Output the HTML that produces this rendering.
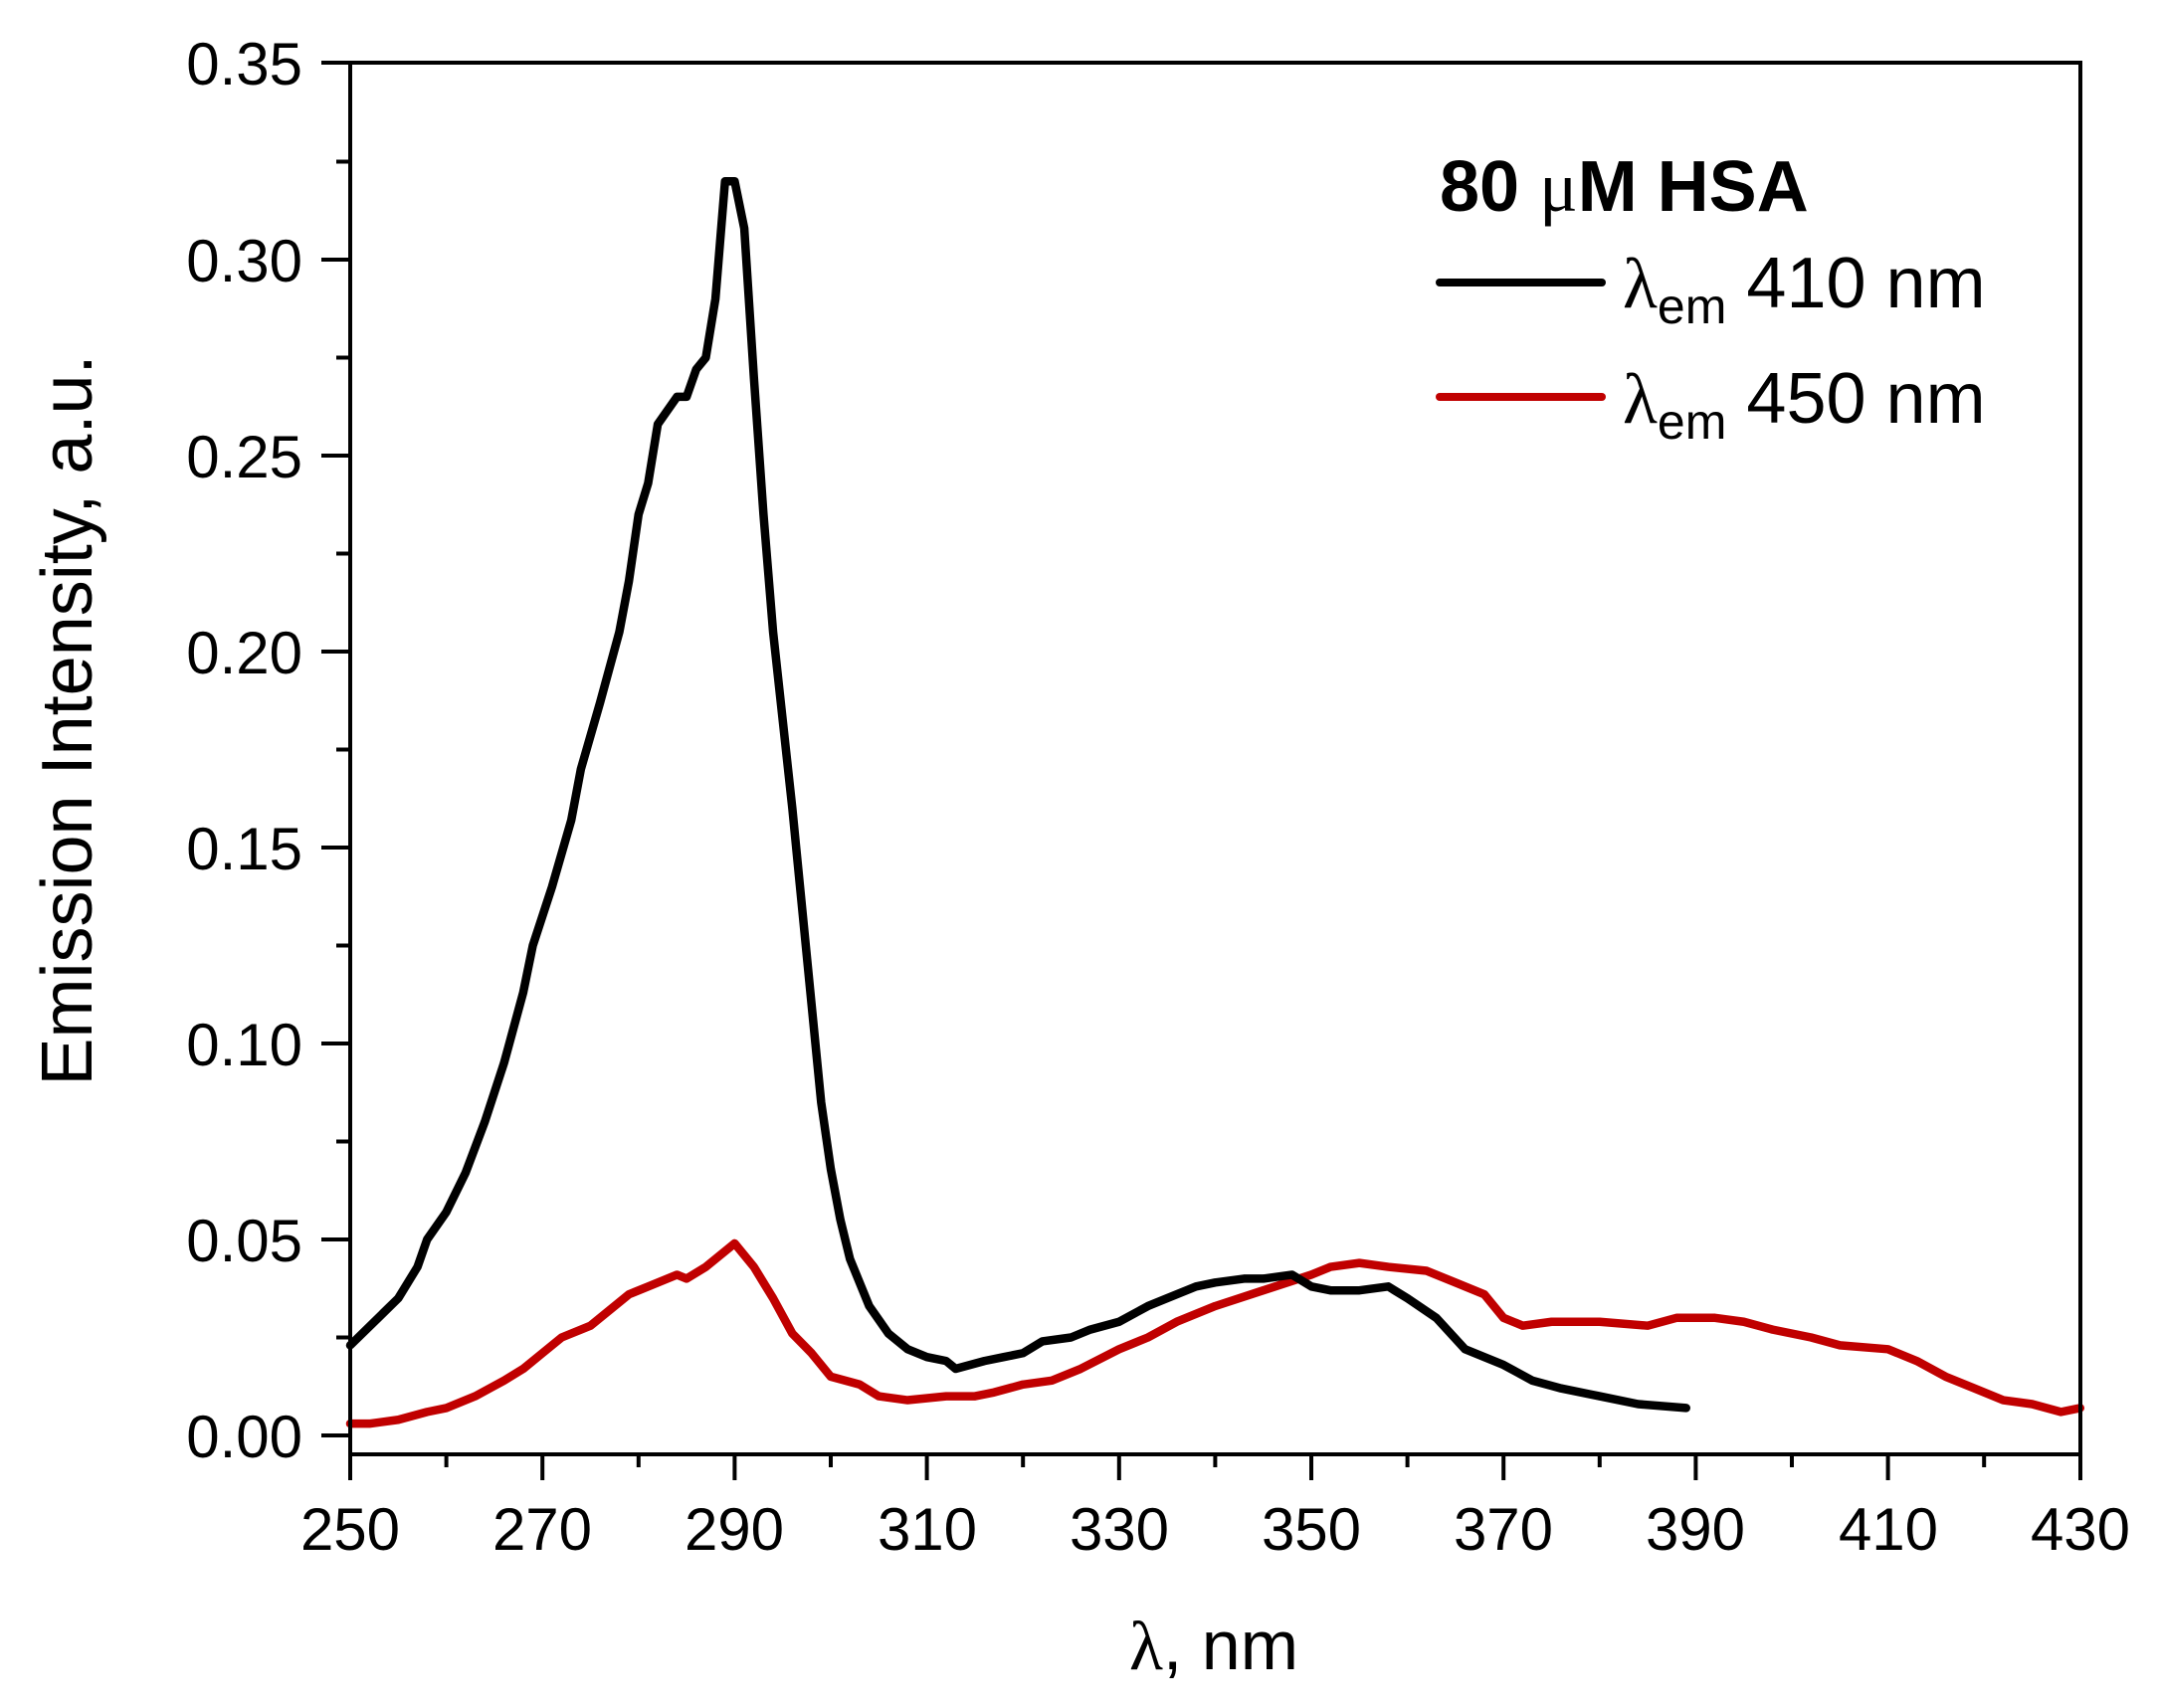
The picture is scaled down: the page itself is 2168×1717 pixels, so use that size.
<!DOCTYPE html>
<html><head><meta charset="utf-8"><style>
html,body{margin:0;padding:0;background:#fff;}
svg{display:block;}
text{font-family:"Liberation Sans",Arial,sans-serif;fill:#000;}
</style></head><body>
<svg width="2168" height="1717" viewBox="0 0 2168 1717" xmlns="http://www.w3.org/2000/svg">
<rect width="2168" height="1717" fill="#fff"/>
<g transform="translate(352,1443) scale(9.66,-3940) translate(-250,0)">
<polyline fill="none" stroke="#c00000" stroke-width="8.5" stroke-linejoin="round" stroke-linecap="round" vector-effect="non-scaling-stroke" points="
250,0.003 252,0.003 255,0.004 258,0.006 260,0.007 263,0.010 266,0.014 268,0.017 270,0.021 272,0.025 275,0.028 277,0.032 279,0.036 281,0.038 284,0.041 285,0.040 287,0.043 290,0.049 292,0.043 294,0.035 296,0.026 298,0.021 300,0.015 303,0.013 305,0.010 308,0.009 312,0.010 315,0.010 317,0.011 320,0.013 323,0.014 326,0.017 330,0.022 333,0.025 336,0.029 340,0.033 345,0.037 350,0.041 352,0.043 355,0.044 358,0.043 362,0.042 365,0.039 368,0.036 370,0.030 372,0.028 375,0.029 380,0.029 385,0.028 388,0.030 392,0.030 395,0.029 398,0.027 402,0.025 405,0.023 410,0.022 413,0.019 416,0.015 419,0.012 422,0.009 425,0.008 428,0.006 430,0.007"/>
<polyline fill="none" stroke="#000" stroke-width="8.5" stroke-linejoin="round" stroke-linecap="round" vector-effect="non-scaling-stroke" points="
250,0.023 255,0.035 257,0.043 258,0.050 260,0.057 262,0.067 264,0.080 266,0.095 268,0.113 269,0.125 271,0.140 273,0.157 274,0.170 276,0.187 278,0.205 279,0.218 280,0.235 281,0.243 282,0.258 284,0.265 285,0.265 286,0.272 287,0.275 288,0.290 289,0.320 290,0.320 291,0.308 292,0.270 293,0.235 294,0.205 296,0.160 298,0.110 299,0.085 300,0.068 301,0.055 302,0.045 304,0.033 306,0.026 308,0.022 310,0.020 312,0.019 313,0.017 316,0.019 318,0.020 320,0.021 322,0.024 325,0.025 327,0.027 330,0.029 333,0.033 335,0.035 338,0.038 340,0.039 343,0.040 345,0.040 348,0.041 350,0.038 352,0.037 355,0.037 358,0.038 360,0.035 363,0.030 366,0.022 370,0.018 373,0.014 376,0.012 380,0.010 384,0.008 389,0.007"/>
</g>
<rect x="352" y="63" width="1739" height="1399" fill="none" stroke="#000" stroke-width="4"/>
<g stroke="#000" stroke-width="4">
<line x1="352" y1="1462" x2="352" y2="1488"/><line x1="448.6" y1="1462" x2="448.6" y2="1475"/>
<line x1="545.2" y1="1462" x2="545.2" y2="1488"/><line x1="641.8" y1="1462" x2="641.8" y2="1475"/>
<line x1="738.4" y1="1462" x2="738.4" y2="1488"/><line x1="835" y1="1462" x2="835" y2="1475"/>
<line x1="931.6" y1="1462" x2="931.6" y2="1488"/><line x1="1028.2" y1="1462" x2="1028.2" y2="1475"/>
<line x1="1124.8" y1="1462" x2="1124.8" y2="1488"/><line x1="1221.4" y1="1462" x2="1221.4" y2="1475"/>
<line x1="1318" y1="1462" x2="1318" y2="1488"/><line x1="1414.6" y1="1462" x2="1414.6" y2="1475"/>
<line x1="1511.2" y1="1462" x2="1511.2" y2="1488"/><line x1="1607.8" y1="1462" x2="1607.8" y2="1475"/>
<line x1="1704.4" y1="1462" x2="1704.4" y2="1488"/><line x1="1801" y1="1462" x2="1801" y2="1475"/>
<line x1="1897.6" y1="1462" x2="1897.6" y2="1488"/><line x1="1994.2" y1="1462" x2="1994.2" y2="1475"/>
<line x1="2091" y1="1462" x2="2091" y2="1488"/>
<line x1="323" y1="1443" x2="352" y2="1443"/><line x1="338" y1="1344.5" x2="352" y2="1344.5"/>
<line x1="323" y1="1246" x2="352" y2="1246"/><line x1="338" y1="1147.5" x2="352" y2="1147.5"/>
<line x1="323" y1="1049" x2="352" y2="1049"/><line x1="338" y1="950.5" x2="352" y2="950.5"/>
<line x1="323" y1="852" x2="352" y2="852"/><line x1="338" y1="753.5" x2="352" y2="753.5"/>
<line x1="323" y1="655" x2="352" y2="655"/><line x1="338" y1="556.5" x2="352" y2="556.5"/>
<line x1="323" y1="458" x2="352" y2="458"/><line x1="338" y1="359.5" x2="352" y2="359.5"/>
<line x1="323" y1="261" x2="352" y2="261"/><line x1="338" y1="162.5" x2="352" y2="162.5"/>
<line x1="323" y1="63" x2="352" y2="63"/>
</g>
<g font-size="60" text-anchor="middle">
<text x="352" y="1558">250</text><text x="545" y="1558">270</text><text x="738" y="1558">290</text>
<text x="932" y="1558">310</text><text x="1125" y="1558">330</text><text x="1318" y="1558">350</text>
<text x="1511" y="1558">370</text><text x="1704" y="1558">390</text><text x="1898" y="1558">410</text>
<text x="2091" y="1558">430</text>
</g>
<g font-size="60" text-anchor="end">
<text x="304" y="1465">0.00</text><text x="304" y="1268">0.05</text><text x="304" y="1071">0.10</text>
<text x="304" y="874">0.15</text><text x="304" y="677">0.20</text><text x="304" y="480">0.25</text>
<text x="304" y="283">0.30</text><text x="304" y="85">0.35</text>
</g>
<text x="1220" y="1678" font-size="70" text-anchor="middle"><tspan font-family="Liberation Serif,serif">λ</tspan>, nm</text>
<text transform="translate(92,724) rotate(-90)" font-size="72" text-anchor="middle">Emission Intensity, a.u.</text>
<text x="1447" y="212" font-size="72" font-weight="bold">80 <tspan font-family="Liberation Serif,serif" font-weight="normal">μ</tspan>M HSA</text>
<line x1="1447" y1="284" x2="1610" y2="284" stroke="#000" stroke-width="8" stroke-linecap="round"/>
<line x1="1447" y1="399" x2="1610" y2="399" stroke="#c00000" stroke-width="8" stroke-linecap="round"/>
<text x="1631" y="309" font-size="72"><tspan font-family="Liberation Serif,serif">λ</tspan><tspan font-size="50" dy="16">em</tspan><tspan dy="-16"> 410 nm</tspan></text>
<text x="1631" y="425" font-size="72"><tspan font-family="Liberation Serif,serif">λ</tspan><tspan font-size="50" dy="16">em</tspan><tspan dy="-16"> 450 nm</tspan></text>
</svg>
</body></html>
